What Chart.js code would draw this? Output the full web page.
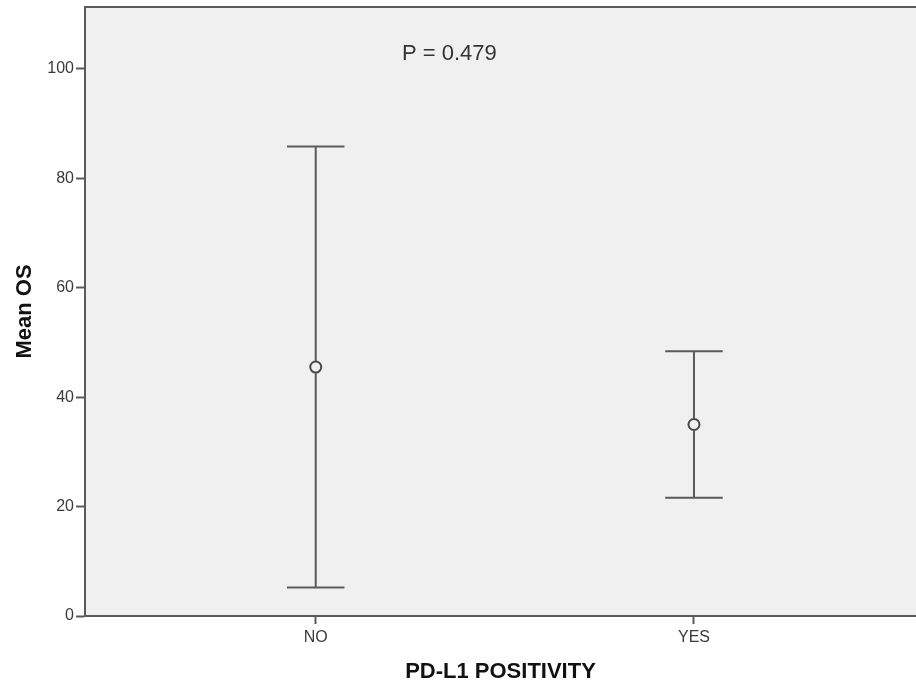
<!DOCTYPE html>
<html>
<head>
<meta charset="utf-8">
<script src="https://cdn.jsdelivr.net/npm/chart.js@4.4.1/dist/chart.umd.min.js"></script>
<style>
  html, body { margin: 0; padding: 0; background: #fff; }
  #wrap { width: 916px; height: 688px; }
</style>
</head>
<body>
<div id="wrap"><canvas id="c" width="916" height="688"></canvas></div>
<script>
// --- data ---
const categories = ["NO", "YES"];
const means = [45.5, 35.0];
const lowerCI = [5.2, 21.6];
const upperCI = [85.8, 48.4];
const yTicks = [0, 20, 40, 60, 80, 100];
const pText = "P = 0.479";

const LINE = "#5a5a5a";
const FONT = "'Liberation Sans', Arial, sans-serif";

// fondo gris + borde superior + barras de error
const errorBars = {
  id: "errorBars",
  beforeDraw(chart) {
    const { ctx, chartArea: a } = chart;
    ctx.save();
    ctx.fillStyle = "#f0f0f0";
    ctx.fillRect(a.left, a.top, a.right - a.left, a.bottom - a.top);
    ctx.strokeStyle = LINE;
    ctx.lineWidth = 2;
    ctx.beginPath();
    ctx.moveTo(a.left, a.top);
    ctx.lineTo(a.right, a.top);
    ctx.stroke();
    ctx.restore();
  },
  afterDatasetsDraw(chart) {
    const { ctx, scales: { x, y } } = chart;
    const cap = 0.076;
    ctx.save();
    ctx.strokeStyle = LINE;
    ctx.lineWidth = 2;
    categories.forEach((c, i) => {
      const px = x.getPixelForValue(i + 1);
      const pl = x.getPixelForValue(i + 1 - cap);
      const pr = x.getPixelForValue(i + 1 + cap);
      const yTop = y.getPixelForValue(upperCI[i]);
      const yBot = y.getPixelForValue(lowerCI[i]);
      const yMean = y.getPixelForValue(means[i]);
      ctx.beginPath();
      ctx.moveTo(px, yTop); ctx.lineTo(px, yMean - 6);
      ctx.moveTo(px, yMean + 6); ctx.lineTo(px, yBot);
      ctx.moveTo(pl, yTop); ctx.lineTo(pr, yTop);
      ctx.moveTo(pl, yBot); ctx.lineTo(pr, yBot);
      ctx.stroke();
    });
    // anotación P
    ctx.fillStyle = "#333";
    ctx.font = "22px " + FONT;
    ctx.textBaseline = "middle";
    ctx.fillText(pText, x.getPixelForValue(1.228), y.getPixelForValue(102.8));
    ctx.restore();
  }
};

new Chart(document.getElementById("c"), {
  type: "scatter",
  data: {
    datasets: [{
      data: means.map((m, i) => ({ x: i + 1, y: m })),
      pointRadius: 5.5,
      pointBorderWidth: 2,
      pointBorderColor: "#4a4a4a",
      pointBackgroundColor: "rgba(0,0,0,0)",
      showLine: false
    }]
  },
  options: {
    responsive: false,
    animation: false,
    layout: { autoPadding: false, padding: { top: 7, right: 0, left: 0, bottom: 0 } },
    plugins: { legend: { display: false }, tooltip: { enabled: false } },
    scales: {
      x: {
        type: "linear",
        min: 0.39,
        max: 2.587,
        afterBuildTicks: s => { s.ticks = categories.map((c, i) => ({ value: i + 1 })); },
        afterFit: s => { s.height = 72; s.paddingLeft = 0; s.paddingRight = 0; },
        ticks: {
          callback: v => categories[v - 1] || "",
          color: "#3a3a3a",
          font: { family: FONT, size: 16 },
          padding: 4
        },
        grid: { drawOnChartArea: false, drawTicks: true, tickLength: 8, color: LINE, tickWidth: 2 },
        border: { color: LINE, width: 2 },
        title: {
          display: true, text: "PD-L1 POSITIVITY", color: "#111",
          font: { family: FONT, size: 22, weight: "bold" },
          padding: { top: 0, bottom: 3 }
        }
      },
      y: {
        min: 0,
        max: 111.3,
        afterBuildTicks: s => { s.ticks = yTicks.map(v => ({ value: v })); },
        afterFit: s => { s.width = 85; s.paddingTop = 0; s.paddingBottom = 0; },
        ticks: {
          color: "#3a3a3a",
          font: { family: FONT, size: 16 },
          padding: 2
        },
        grid: { drawOnChartArea: false, drawTicks: true, tickLength: 9, color: LINE, tickWidth: 2 },
        border: { color: LINE, width: 2 },
        title: {
          display: true, text: "Mean OS", color: "#111",
          font: { family: FONT, size: 22, weight: "bold" },
          padding: { top: 12, bottom: 0 }
        }
      }
    }
  },
  plugins: [errorBars]
});
</script>
</body>
</html>
